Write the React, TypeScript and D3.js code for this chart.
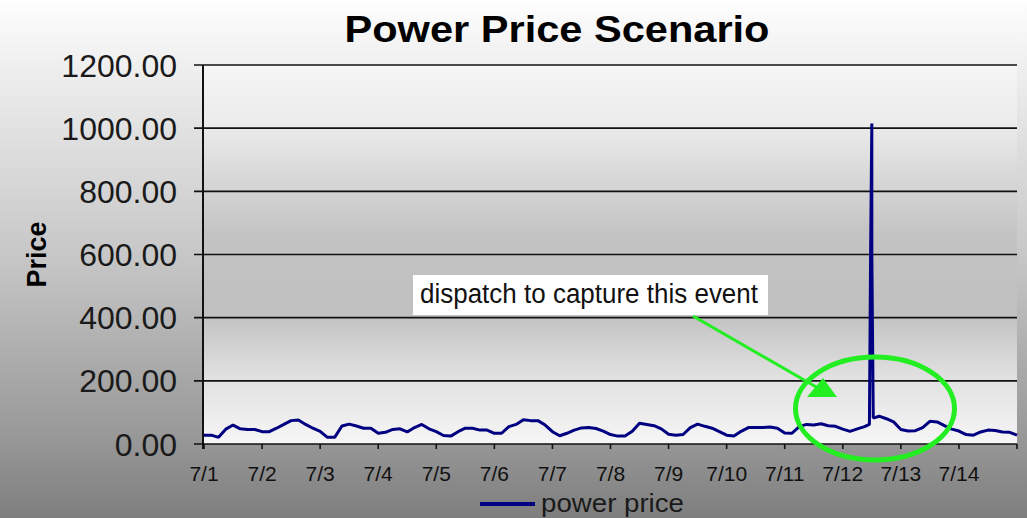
import React, { useEffect, useRef } from "react"
import * as d3 from "d3"

// hours since 7/1 00:00
const hours = [
  0, 3, 6, 9, 12, 15, 18, 21, 24, 27, 30, 33, 36, 39, 42, 45, 48, 51, 54, 57, 60, 63, 66, 69,
  72, 75, 78, 81, 84, 87, 90, 93, 96, 99, 102, 105, 108, 111, 114, 117, 120, 123, 126, 129, 132, 135,
  138, 141, 144, 147, 150, 153, 156, 159, 162, 165, 168, 171, 174, 177, 180, 183, 186, 189, 192, 195,
  198, 201, 204, 207, 210, 213, 216, 219, 222, 225, 228, 231, 234, 237, 240, 243, 246, 249, 252, 255,
  258, 261, 264, 267, 270, 273, 275, 275.5, 276, 276, 276.6, 279, 282, 285, 288, 291, 294, 297, 300, 303,
  306, 309, 312, 315, 318, 321, 324, 327, 330, 333, 336
]
const prices = [
  28, 28, 21, 47, 60, 48, 46, 46, 39, 39, 50, 62, 74, 76, 62, 50, 40, 21, 21, 57, 63, 57, 50, 50,
  34, 37, 46, 48, 38, 52, 62, 48, 39, 27, 25, 39, 50, 50, 44, 44, 34, 34, 55, 62, 77, 74,
  74, 60, 39, 26, 34, 44, 51, 52, 49, 41, 30, 25, 25, 40, 66, 62, 58, 48, 31, 28,
  30, 52, 63, 56, 50, 39, 28, 25, 40, 52, 52, 52, 54, 50, 35, 34, 55, 62, 60, 64,
  58, 56, 47, 40, 48, 55, 62, 605, 1015, 600, 82, 88, 80, 70, 46, 41, 42, 52, 72, 70,
  58, 47, 41, 30, 28, 38, 44, 43, 38, 37, 28
]
const dayLabels = ["7/1", "7/2", "7/3", "7/4", "7/5", "7/6", "7/7", "7/8", "7/9", "7/10", "7/11", "7/12", "7/13", "7/14"]
const yTicks = [0, 200, 400, 600, 800, 1000, 1200]

const W = 1027
const H = 518
const FONT = "'Liberation Sans', Arial, sans-serif"

export default function App() {
  const ref = useRef<SVGSVGElement>(null)

  useEffect(() => {
    const svg = d3.select(ref.current)
    svg.selectAll("*").remove()

    const left = 204, right = 1017, top = 65, bottom = 444
    const x = d3.scaleLinear().domain([0, 336]).range([left, right])
    const y = d3.scaleLinear().domain([0, 1200]).range([bottom, top])

    const defs = svg.append("defs")
    const bg = defs.append("linearGradient").attr("id", "bgGrad")
      .attr("x1", "0%").attr("y1", "0%").attr("x2", "0%").attr("y2", "100%")
    ;[[0, "#fefefe"], [0.1, "#f2f2f2"], [0.5, "#c6c6c6"], [0.85, "#979797"], [1, "#7e7e7e"]]
      .forEach(s => bg.append("stop").attr("offset", s[0] as number).style("stop-color", s[1] as string))
    const pg = defs.append("linearGradient").attr("id", "plotGrad")
      .attr("x1", "0%").attr("y1", "0%").attr("x2", "0%").attr("y2", "100%")
    ;[[0, "#f6f6f6"], [0.15, "#ececec"], [0.45, "#c3c3c3"], [0.65, "#c0c0c0"], [0.82, "#e0e0e0"], [1, "#f6f6f6"]]
      .forEach(s => pg.append("stop").attr("offset", s[0] as number).style("stop-color", s[1] as string))

    svg.append("rect").attr("width", W).attr("height", H).attr("fill", "url(#bgGrad)")
    svg.append("rect")
      .attr("x", left).attr("y", top)
      .attr("width", right - left).attr("height", bottom - top)
      .attr("fill", "url(#plotGrad)")

    // title
    svg.append("text")
      .attr("x", 557).attr("y", 42)
      .attr("text-anchor", "middle")
      .attr("font-family", FONT).attr("font-weight", "bold").attr("font-size", 37)
      .attr("textLength", 425).attr("lengthAdjust", "spacingAndGlyphs")
      .attr("fill", "#000")
      .text("Power Price Scenario")

    // y axis title
    svg.append("text")
      .attr("transform", `translate(46,${(top + bottom) / 2}) rotate(-90)`)
      .attr("text-anchor", "middle")
      .attr("font-family", FONT).attr("font-weight", "bold").attr("font-size", 27)
      .attr("fill", "#000")
      .text("Price")

    // gridlines + y ticks
    svg.append("g").selectAll("line").data(yTicks).enter().append("line")
      .attr("x1", left - 10).attr("x2", right)
      .attr("y1", d => y(d)).attr("y2", d => y(d))
      .attr("stroke", "#111").attr("stroke-width", 1.6)

    svg.append("g").selectAll("text").data(yTicks).enter().append("text")
      .attr("x", 177).attr("y", d => y(d) + 11.5)
      .attr("text-anchor", "end")
      .attr("font-family", FONT).attr("font-size", 32)
      .attr("fill", "#1a1a1a")
      .text(d => d3.format(".2f")(d))

    // y axis line
    svg.append("line")
      .attr("x1", left - 1).attr("x2", left - 1)
      .attr("y1", top).attr("y2", bottom + 5)
      .attr("stroke", "#111").attr("stroke-width", 2)

    // x ticks + labels
    const dayTicks = d3.range(0, 337, 24)
    svg.append("g").selectAll("line").data(dayTicks).enter().append("line")
      .attr("x1", d => x(d)).attr("x2", d => x(d))
      .attr("y1", bottom).attr("y2", bottom + 5)
      .attr("stroke", "#111").attr("stroke-width", 1.6)

    svg.append("g").selectAll("text").data(dayLabels).enter().append("text")
      .attr("x", (d, i) => x(i * 24))
      .attr("y", 481)
      .attr("text-anchor", "middle")
      .attr("font-family", FONT).attr("font-size", 21)
      .attr("fill", "#111")
      .text(d => d)

    // price line
    const pts: [number, number][] = hours.map((h, i) => [h, prices[i]])
    const line = d3.line<[number, number]>()
      .x(d => x(d[0]))
      .y(d => y(d[1]))
    svg.append("path")
      .datum(pts)
      .attr("d", line)
      .attr("fill", "none")
      .attr("stroke", "#000080")
      .attr("stroke-width", 3)
      .attr("stroke-linejoin", "bevel")

    // legend
    svg.append("line")
      .attr("x1", 480).attr("x2", 535)
      .attr("y1", 504).attr("y2", 504)
      .attr("stroke", "#000080").attr("stroke-width", 4)
    svg.append("text")
      .attr("x", 541).attr("y", 512)
      .attr("font-family", FONT).attr("font-size", 26)
      .attr("textLength", 143).attr("lengthAdjust", "spacingAndGlyphs")
      .attr("fill", "#1a1a1a")
      .text("power price")

    // annotation
    svg.append("rect")
      .attr("x", 413).attr("y", 275).attr("width", 355).attr("height", 40)
      .attr("fill", "#fff")
    svg.append("text")
      .attr("x", 420).attr("y", 302.5)
      .attr("font-family", FONT).attr("font-size", 27)
      .attr("textLength", 338).attr("lengthAdjust", "spacingAndGlyphs")
      .attr("fill", "#111")
      .text("dispatch to capture this event")

    const green = "#22ee22"
    svg.append("line")
      .attr("x1", 693).attr("y1", 316)
      .attr("x2", 818).attr("y2", 388)
      .attr("stroke", green).attr("stroke-width", 3)
    svg.append("path")
      .attr("d", "M837,397 L823,378 L807,397 Z")
      .attr("fill", green)
    svg.append("ellipse")
      .attr("cx", 875).attr("cy", 408.5).attr("rx", 79.5).attr("ry", 51.5)
      .attr("fill", "none")
      .attr("stroke", green).attr("stroke-width", 5)
  }, [])

  return (
    <svg
      ref={ref}
      width={W}
      height={H}
      style={{ position: "absolute", left: 0, top: 0, display: "block" }}
    />
  )
}
